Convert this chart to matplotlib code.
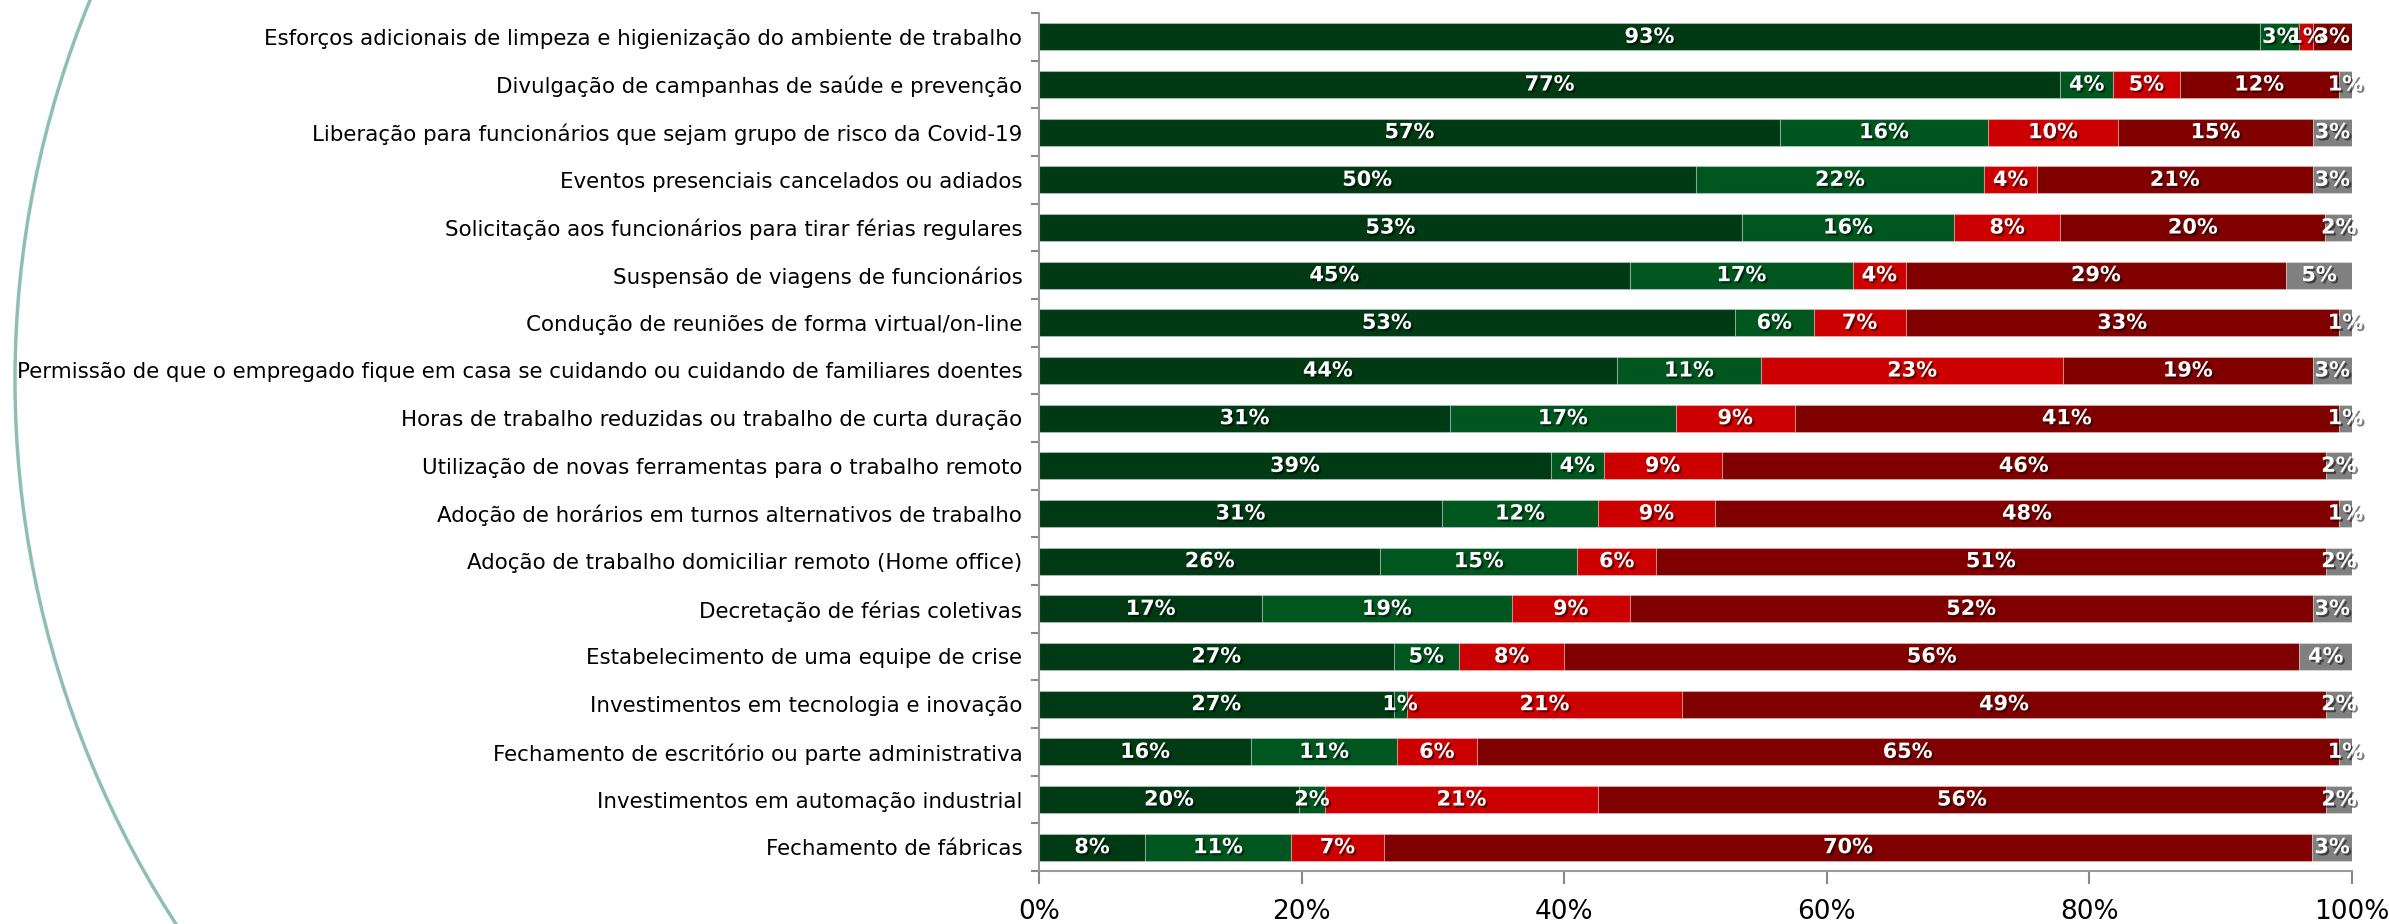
import matplotlib
matplotlib.use("Agg")
import matplotlib.pyplot as plt
import matplotlib.patheffects as pe
from matplotlib.patches import Arc
import numpy as np

# categories, top to bottom
categories = [
    "Esforços adicionais de limpeza e higienização do ambiente de trabalho",
    "Divulgação de campanhas de saúde e prevenção",
    "Liberação para funcionários que sejam grupo de risco da Covid-19",
    "Eventos presenciais cancelados ou adiados",
    "Solicitação aos funcionários para tirar férias regulares",
    "Suspensão de viagens de funcionários",
    "Condução de reuniões de forma virtual/on-line",
    "Permissão de que o empregado fique em casa se cuidando ou cuidando de familiares doentes",
    "Horas de trabalho reduzidas ou trabalho de curta duração",
    "Utilização de novas ferramentas para o trabalho remoto",
    "Adoção de horários em turnos alternativos de trabalho",
    "Adoção de trabalho domiciliar remoto (Home office)",
    "Decretação de férias coletivas",
    "Estabelecimento de uma equipe de crise",
    "Investimentos em tecnologia e inovação",
    "Fechamento de escritório ou parte administrativa",
    "Investimentos em automação industrial",
    "Fechamento de fábricas",
]

# series values (%), same order as categories
serie_1 = [93, 77, 57, 50, 53, 45, 53, 44, 31, 39, 31, 26, 17, 27, 27, 16, 20, 8]
serie_2 = [3, 4, 16, 22, 16, 17, 6, 11, 17, 4, 12, 15, 19, 5, 1, 11, 2, 11]
serie_3 = [1, 5, 10, 4, 8, 4, 7, 23, 9, 9, 9, 6, 9, 8, 21, 6, 21, 7]
serie_4 = [3, 12, 15, 21, 20, 29, 33, 19, 41, 46, 48, 51, 52, 56, 49, 65, 56, 70]
serie_5 = [0, 1, 3, 3, 2, 5, 1, 3, 1, 2, 1, 2, 3, 4, 2, 1, 2, 3]

colors = ["#003A14", "#00561F", "#CC0000", "#800000", "#808080"]
x_ticks = [0, 20, 40, 60, 80, 100]
x_tick_labels = ["0%", "20%", "40%", "60%", "80%", "100%"]

W, H = 2389, 924
fig = plt.figure(figsize=(W / 100, H / 100), dpi=100)
ax = fig.add_axes([1039 / W, 53 / H, (2352 - 1039) / W, (924 - 53 - 13) / H])

data = np.array([serie_1, serie_2, serie_3, serie_4, serie_5], dtype=float)
# 100% stacked: normalise each row
shares = data / data.sum(axis=0) * 100
n = len(categories)
ypos = np.arange(n)[::-1]

shadow = [pe.withSimplePatchShadow(offset=(1.5, -1.5), shadow_rgbFace="black", alpha=0.5)]
left = np.zeros(n)
for k in range(5):
    ax.barh(ypos, shares[k], left=left, height=0.57, color=colors[k],
            edgecolor=(1, 1, 1, 0.3), linewidth=0.8)
    for i in range(n):
        if data[k, i] > 0:
            ax.text(left[i] + shares[k, i] / 2, ypos[i], f"{int(data[k, i])}%",
                    ha="center", va="center", color="white", fontsize=15,
                    fontweight="bold", path_effects=shadow)
    left += shares[k]

ax.set_xlim(0, 100)
ax.set_ylim(-0.5, n - 0.5)
ax.set_yticks(ypos)
ax.set_yticklabels(categories, fontsize=15.4)
ax.set_yticks(np.arange(n + 1) - 0.5, minor=True)
ax.tick_params(axis="y", which="major", length=0, pad=12)
ax.tick_params(axis="y", which="minor", length=6, color="#888888", width=1.5)
ax.set_xticks(x_ticks)
ax.set_xticklabels(x_tick_labels, fontsize=19)
ax.tick_params(axis="x", length=9, color="#888888", width=1.5, pad=11)

for s in ["top", "right"]:
    ax.spines[s].set_visible(False)
for s in ["left", "bottom"]:
    ax.spines[s].set_color("#999999")
    ax.spines[s].set_linewidth(1.5)

# decorative arc on the left
r = 1000
arc = Arc((1015 / W, 544 / H), 2 * r / W, 2 * r / H, theta1=90, theta2=270,
          transform=fig.transFigure, color="#8FBFB4", linewidth=2.5)
fig.add_artist(arc)

fig.savefig("out.png", dpi=100)
